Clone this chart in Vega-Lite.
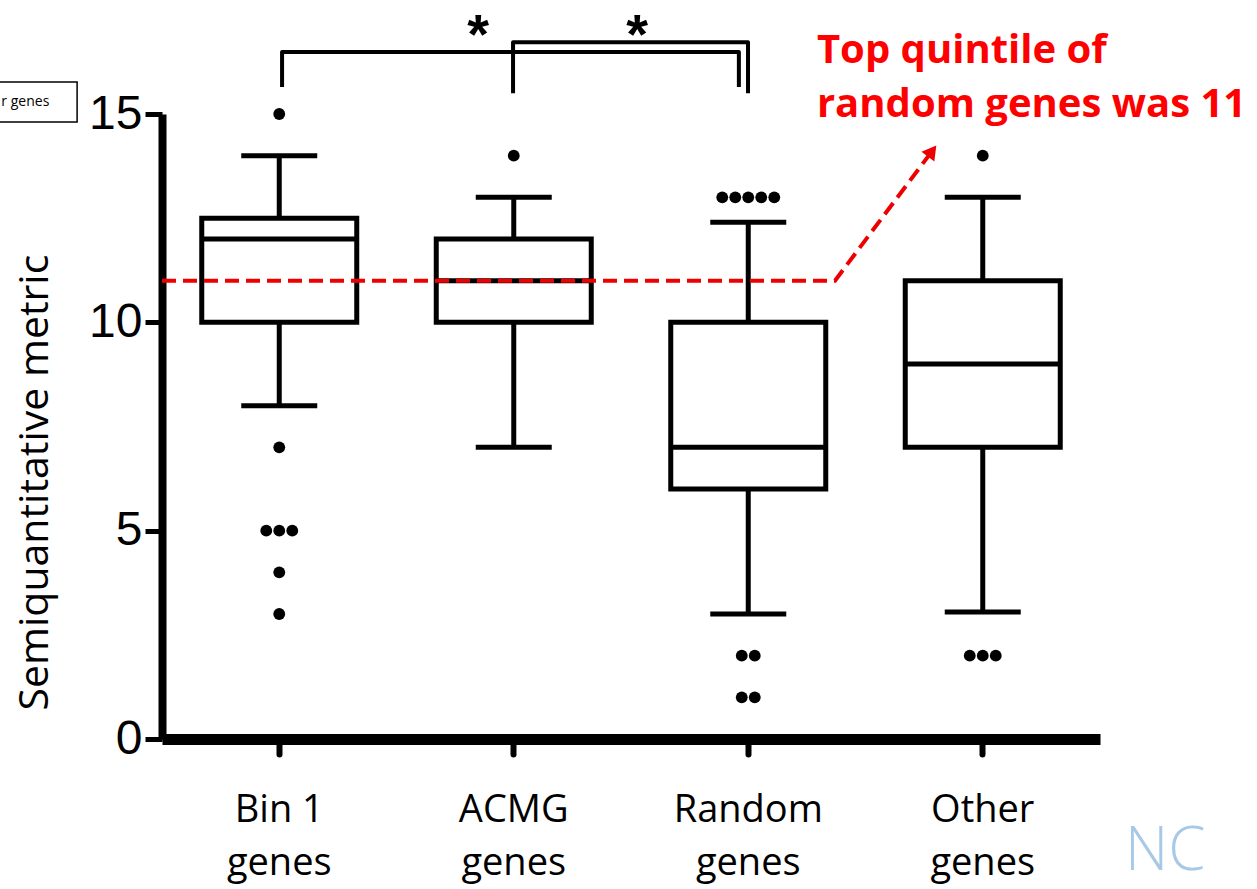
{
  "$schema": "https://vega.github.io/schema/vega-lite/v6.json",
  "width": 938,
  "height": 625,
  "autosize": {"type": "none"},
  "padding": {"left": 162, "top": 114, "right": 157, "bottom": 150},
  "background": "white",
  "config": {"view": {"stroke": null}, "axis": {"grid": false}},
  "datasets": {
    "box": [
      {"group": "Bin 1 genes", "lo": 8, "q1": 10, "med": 12, "q3": 12.5, "hi": 14},
      {"group": "ACMG genes", "lo": 7, "q1": 10, "med": 11, "q3": 12, "hi": 13},
      {"group": "Random genes", "lo": 3, "q1": 6, "med": 7, "q3": 10, "hi": 12.4},
      {"group": "Other genes", "lo": 3.05, "q1": 7, "med": 9, "q3": 11, "hi": 13}
    ],
    "outliers": [
      {"group": "Bin 1 genes", "value": 15, "k": 0},
      {"group": "Bin 1 genes", "value": 7, "k": 0},
      {"group": "Bin 1 genes", "value": 5, "k": -1},
      {"group": "Bin 1 genes", "value": 5, "k": 0},
      {"group": "Bin 1 genes", "value": 5, "k": 1},
      {"group": "Bin 1 genes", "value": 4, "k": 0},
      {"group": "Bin 1 genes", "value": 3, "k": 0},
      {"group": "ACMG genes", "value": 14, "k": 0},
      {"group": "Random genes", "value": 13, "k": -2},
      {"group": "Random genes", "value": 13, "k": -1},
      {"group": "Random genes", "value": 13, "k": 0},
      {"group": "Random genes", "value": 13, "k": 1},
      {"group": "Random genes", "value": 13, "k": 2},
      {"group": "Random genes", "value": 2, "k": -0.5},
      {"group": "Random genes", "value": 2, "k": 0.5},
      {"group": "Random genes", "value": 1, "k": -0.5},
      {"group": "Random genes", "value": 1, "k": 0.5},
      {"group": "Other genes", "value": 14, "k": 0},
      {"group": "Other genes", "value": 2, "k": -1},
      {"group": "Other genes", "value": 2, "k": 0},
      {"group": "Other genes", "value": 2, "k": 1}
    ],
    "brackets": [
      {"id": "b1", "k": 1, "x": 1.012, "y": 15.65},
      {"id": "b1", "k": 2, "x": 1.012, "y": 16.49},
      {"id": "b1", "k": 3, "x": 2.96, "y": 16.49},
      {"id": "b1", "k": 4, "x": 2.96, "y": 15.65},
      {"id": "b2", "k": 1, "x": 1.997, "y": 15.5},
      {"id": "b2", "k": 2, "x": 1.997, "y": 16.72},
      {"id": "b2", "k": 3, "x": 2.999, "y": 16.72},
      {"id": "b2", "k": 4, "x": 2.999, "y": 15.5}
    ],
    "arrow": [
      {"k": 1, "x": 0.5, "y": 11},
      {"k": 2, "x": 3.37, "y": 11},
      {"k": 3, "x": 3.784, "y": 14.11}
    ],
    "arrowhead": [{"x": 3.784, "y": 14.11}],
    "stars": [
      {"x": 1.848, "y": 16.46, "t": "*"},
      {"x": 2.526, "y": 16.46, "t": "*"}
    ],
    "note": [{"x": 3.293, "y": 16.22, "t": "Top quintile of\nrandom genes was 11"}],
    "logo": [{"x": 4.607, "y": -3.14, "t": "NC"}],
    "legendbox": [{"x": -0.25, "x2": 0.138, "y": 15.77, "y2": 14.81}],
    "legendtext": [{"x": -0.185, "y": 15.2, "t": "r genes"}]
  },
  "layer": [
    {
      "layer": [
        {
          "data": {"name": "box"},
          "mark": {"type": "rule", "color": "black", "strokeWidth": 5},
          "encoding": {
            "x": {"field": "group", "type": "nominal", "scale": {"domain": ["Bin 1 genes", "ACMG genes", "Random genes", "Other genes"], "paddingInner": 0, "paddingOuter": 0},
              "axis": {"title": null, "labelAngle": 0, "labelFont": "Open Sans", "labelFontSize": 38, "labelColor": "black", "labelLineHeight": 53,
                "labelExpr": "[replace(datum.label, ' genes', ''), 'genes']", "labelPadding": 37,
                "domainColor": "black", "domainWidth": 11, "tickColor": "black", "tickWidth": 6, "tickSize": 15, "tickCap": "round"}},
            "y": {"field": "lo", "type": "quantitative", "scale": {"domain": [0, 15], "nice": false},
              "axis": {"title": "Semiquantitative metric", "values": [0, 5, 10, 15], "labelFont": "Liberation Sans", "labelFontSize": 48, "labelColor": "black", "labelPadding": 3,
                "domainColor": "black", "domainWidth": 8, "tickColor": "black", "tickWidth": 5, "tickSize": 17,
                "titleFont": "Open Sans", "titleFontSize": 41, "titleFontWeight": "normal", "titleColor": "black",
                "titleAngle": -90, "titleAlign": "left", "titleBaseline": "alphabetic", "titleX": -115, "titleY": 596}},
            "y2": {"field": "hi"}
          }
        },
        {
          "data": {"name": "box"},
          "mark": {"type": "bar", "orient": "vertical", "width": 155, "fill": "white", "stroke": "black", "strokeWidth": 5},
          "encoding": {
            "x": {"field": "group", "type": "nominal", "scale": {"domain": ["Bin 1 genes", "ACMG genes", "Random genes", "Other genes"], "paddingInner": 0, "paddingOuter": 0}},
            "y": {"field": "q1", "type": "quantitative", "scale": {"domain": [0, 15], "nice": false}},
            "y2": {"field": "q3"}
          }
        },
        {
          "data": {"name": "box"},
          "mark": {"type": "tick", "orient": "horizontal", "color": "black", "opacity": 1, "size": 155, "thickness": 5},
          "encoding": {
            "x": {"field": "group", "type": "nominal", "scale": {"domain": ["Bin 1 genes", "ACMG genes", "Random genes", "Other genes"], "paddingInner": 0, "paddingOuter": 0}},
            "y": {"field": "med", "type": "quantitative", "scale": {"domain": [0, 15], "nice": false}}
          }
        },
        {
          "data": {"name": "box"},
          "mark": {"type": "tick", "orient": "horizontal", "color": "black", "opacity": 1, "size": 76, "thickness": 5},
          "encoding": {
            "x": {"field": "group", "type": "nominal", "scale": {"domain": ["Bin 1 genes", "ACMG genes", "Random genes", "Other genes"], "paddingInner": 0, "paddingOuter": 0}},
            "y": {"field": "lo", "type": "quantitative", "scale": {"domain": [0, 15], "nice": false}}
          }
        },
        {
          "data": {"name": "box"},
          "mark": {"type": "tick", "orient": "horizontal", "color": "black", "opacity": 1, "size": 76, "thickness": 5},
          "encoding": {
            "x": {"field": "group", "type": "nominal", "scale": {"domain": ["Bin 1 genes", "ACMG genes", "Random genes", "Other genes"], "paddingInner": 0, "paddingOuter": 0}},
            "y": {"field": "hi", "type": "quantitative", "scale": {"domain": [0, 15], "nice": false}}
          }
        },
        {
          "data": {"name": "outliers"},
          "mark": {"type": "circle", "color": "black", "opacity": 1, "size": 140},
          "encoding": {
            "x": {"field": "group", "type": "nominal", "scale": {"domain": ["Bin 1 genes", "ACMG genes", "Random genes", "Other genes"], "paddingInner": 0, "paddingOuter": 0}},
            "xOffset": {"field": "k", "type": "quantitative", "scale": {"domain": [-1, 1], "range": [104.25, 130.25]}},
            "y": {"field": "value", "type": "quantitative", "scale": {"domain": [0, 15], "nice": false}}
          }
        }
      ]
    },
    {
      "layer": [
        {
          "data": {"name": "arrow"},
          "mark": {"type": "line", "color": "#ee0000", "strokeWidth": 4, "strokeDash": [14, 7]},
          "encoding": {
            "x": {"field": "x", "type": "quantitative", "scale": {"domain": [0.5, 4.5], "nice": false, "zero": false}, "axis": null},
            "y": {"field": "y", "type": "quantitative", "scale": {"domain": [0, 15], "nice": false}},
            "order": {"field": "k"}
          }
        },
        {
          "data": {"name": "arrowhead"},
          "mark": {"type": "point", "shape": "triangle-up", "filled": true, "color": "#ee0000", "opacity": 1, "size": 260, "angle": 37},
          "encoding": {
            "x": {"field": "x", "type": "quantitative", "scale": {"domain": [0.5, 4.5], "nice": false, "zero": false}, "axis": null},
            "y": {"field": "y", "type": "quantitative", "scale": {"domain": [0, 15], "nice": false}}
          }
        },
        {
          "data": {"name": "brackets"},
          "mark": {"type": "line", "color": "black", "strokeWidth": 4, "strokeJoin": "round"},
          "encoding": {
            "x": {"field": "x", "type": "quantitative", "scale": {"domain": [0.5, 4.5], "nice": false, "zero": false}, "axis": null},
            "y": {"field": "y", "type": "quantitative", "scale": {"domain": [0, 15], "nice": false}},
            "detail": {"field": "id"},
            "order": {"field": "k"}
          }
        },
        {
          "data": {"name": "stars"},
          "mark": {"type": "text", "font": "Liberation Sans", "fontSize": 56, "fontWeight": "bold", "color": "black", "align": "center", "baseline": "alphabetic"},
          "encoding": {
            "x": {"field": "x", "type": "quantitative", "scale": {"domain": [0.5, 4.5], "nice": false, "zero": false}, "axis": null},
            "y": {"field": "y", "type": "quantitative", "scale": {"domain": [0, 15], "nice": false}},
            "text": {"field": "t"}
          }
        },
        {
          "data": {"name": "note"},
          "mark": {"type": "text", "font": "Open Sans", "fontSize": 40, "fontWeight": "bold", "color": "#ff0000", "align": "left", "baseline": "alphabetic", "lineBreak": "\n", "lineHeight": 54},
          "encoding": {
            "x": {"field": "x", "type": "quantitative", "scale": {"domain": [0.5, 4.5], "nice": false, "zero": false}, "axis": null},
            "y": {"field": "y", "type": "quantitative", "scale": {"domain": [0, 15], "nice": false}},
            "text": {"field": "t"}
          }
        },
        {
          "data": {"name": "logo"},
          "mark": {"type": "text", "font": "Open Sans", "fontSize": 60, "fontWeight": 300, "color": "#a7c8e6", "align": "left", "baseline": "alphabetic"},
          "encoding": {
            "x": {"field": "x", "type": "quantitative", "scale": {"domain": [0.5, 4.5], "nice": false, "zero": false}, "axis": null},
            "y": {"field": "y", "type": "quantitative", "scale": {"domain": [0, 15], "nice": false}},
            "text": {"field": "t"}
          }
        },
        {
          "data": {"name": "legendbox"},
          "mark": {"type": "rect", "fill": "white", "stroke": "black", "strokeWidth": 1.5},
          "encoding": {
            "x": {"field": "x", "type": "quantitative", "scale": {"domain": [0.5, 4.5], "nice": false, "zero": false}, "axis": null},
            "x2": {"field": "x2"},
            "y": {"field": "y", "type": "quantitative", "scale": {"domain": [0, 15], "nice": false}},
            "y2": {"field": "y2"}
          }
        },
        {
          "data": {"name": "legendtext"},
          "mark": {"type": "text", "font": "Open Sans", "fontSize": 14, "color": "black", "align": "left", "baseline": "alphabetic"},
          "encoding": {
            "x": {"field": "x", "type": "quantitative", "scale": {"domain": [0.5, 4.5], "nice": false, "zero": false}, "axis": null},
            "y": {"field": "y", "type": "quantitative", "scale": {"domain": [0, 15], "nice": false}},
            "text": {"field": "t"}
          }
        }
      ]
    }
  ],
  "resolve": {"scale": {"x": "independent"}}
}
